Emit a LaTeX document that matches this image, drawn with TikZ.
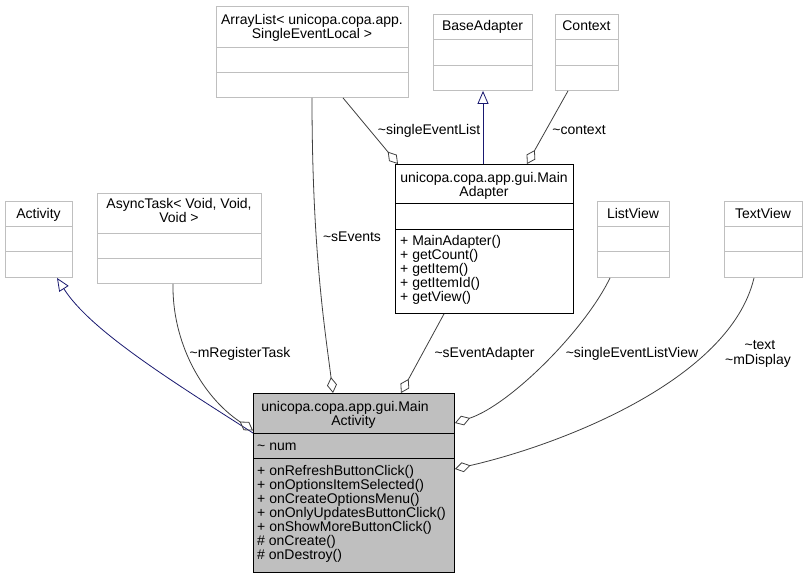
\documentclass[tikz,border=0pt]{standalone}
\usepackage{fontspec}
\setmainfont{Liberation Sans}
\usetikzlibrary{arrows.meta,calc}
\definecolor{extgray}{HTML}{BFBFBF}
\definecolor{edgegray}{HTML}{404040}
\definecolor{inhblue}{HTML}{191970}
\begin{document}
\begin{tikzpicture}[x=1pt,y=-1pt,
  font=\fontsize{14}{14}\selectfont,
  ext/.style={rectangle, draw=extgray, fill=white, line width=0.9pt, inner sep=0pt, anchor=north west},
  own/.style={rectangle, draw=black, fill=white, line width=0.9pt, inner sep=0pt, anchor=north west},
  ownfill/.style={rectangle, draw=black, fill=extgray, line width=0.9pt, inner sep=0pt, anchor=north west},
  divext/.style={draw=extgray, line width=0.9pt},
  divown/.style={draw=black, line width=0.9pt},
  lbl/.style={anchor=base, inner sep=0pt},
  mem/.style={anchor=base west, inner sep=0pt},
  agg/.style={draw=edgegray, line width=0.8pt, {Diamond[open,length=16pt,width=10pt]}-},
  inh/.style={draw=inhblue, line width=0.8pt, -{Triangle[open,length=13pt,width=11pt]}}
]
\fill[white] (0,0) rectangle (805,579);
\useasboundingbox (0,0) rectangle (805,579);

% ---- external classes ----
\node[ext, minimum width=67pt, minimum height=76pt] (activity) at (5,201) {};
\draw[divext] (activity.west |- 0,226) -- (activity.east |- 0,226);
\draw[divext] (activity.west |- 0,251) -- (activity.east |- 0,251);
\node[lbl] (activity-t) at (38.5,218) {Activity};

\node[ext, minimum width=164pt, minimum height=90pt] (async) at (97,193) {};
\draw[divext] (async.west |- 0,233) -- (async.east |- 0,233);
\draw[divext] (async.west |- 0,258) -- (async.east |- 0,258);
\node[lbl] (async-t1) at (179,208.5) {AsyncTask< Void, Void,};
\node[lbl] (async-t2) at (179,222.5) {Void >};

\node[ext, minimum width=192pt, minimum height=91pt] (arraylist) at (216,6) {};
\draw[divext] (arraylist.west |- 0,47) -- (arraylist.east |- 0,47);
\draw[divext] (arraylist.west |- 0,72) -- (arraylist.east |- 0,72);
\node[lbl] (arraylist-t1) at (312,24.5) {ArrayList< unicopa.copa.app.};
\node[lbl] (arraylist-t2) at (312,38.5) {SingleEventLocal >};

\node[ext, minimum width=99pt, minimum height=76pt] (baseadapter) at (433,14) {};
\draw[divext] (baseadapter.west |- 0,39.5) -- (baseadapter.east |- 0,39.5);
\draw[divext] (baseadapter.west |- 0,65) -- (baseadapter.east |- 0,65);
\node[lbl] (baseadapter-t) at (482.5,30.5) {BaseAdapter};

\node[ext, minimum width=63pt, minimum height=76pt] (context) at (555,14) {};
\draw[divext] (context.west |- 0,39.5) -- (context.east |- 0,39.5);
\draw[divext] (context.west |- 0,65) -- (context.east |- 0,65);
\node[lbl] (context-t) at (586.5,30.5) {Context};

\node[ext, minimum width=72pt, minimum height=76pt] (listview) at (597,201) {};
\draw[divext] (listview.west |- 0,226) -- (listview.east |- 0,226);
\draw[divext] (listview.west |- 0,251) -- (listview.east |- 0,251);
\node[lbl] (listview-t) at (633,218) {ListView};

\node[ext, minimum width=78pt, minimum height=76pt] (textview) at (724,201) {};
\draw[divext] (textview.west |- 0,226) -- (textview.east |- 0,226);
\draw[divext] (textview.west |- 0,251) -- (textview.east |- 0,251);
\node[lbl] (textview-t) at (763,218) {TextView};

% ---- MainAdapter ----
\node[own, minimum width=178pt, minimum height=149pt] (madapter) at (395,164) {};
\draw[divown] (madapter.west |- 0,203) -- (madapter.east |- 0,203);
\draw[divown] (madapter.west |- 0,229) -- (madapter.east |- 0,229);
\node[lbl] (madapter-t1) at (484,182.5) {unicopa.copa.app.gui.Main};
\node[lbl] (madapter-t2) at (484,196.5) {Adapter};
\foreach \t [count=\i from 0] in {+ MainAdapter(),+ getCount(),+ getItem(),+ getItemId(),+ getView()}
  \node[mem] (madapter-m\i) at (400,245.5+14.1*\i) {\t};

% ---- MainActivity ----
\node[ownfill, minimum width=201pt, minimum height=179pt] (ma) at (253,393) {};
\draw[divown] (ma.west |- 0,433) -- (ma.east |- 0,433);
\draw[divown] (ma.west |- 0,458) -- (ma.east |- 0,458);
\node[lbl] (ma-t1) at (345,411) {unicopa.copa.app.gui.Main};
\node[lbl] (ma-t2) at (353.5,425) {Activity};
\node[mem] (ma-a) at (257,450) {\textasciitilde{} num};
\foreach \t [count=\i from 0] in {+ onRefreshButtonClick(),+ onOptionsItemSelected(),+ onCreateOptionsMenu(),+ onOnlyUpdatesButtonClick(),+ onShowMoreButtonClick(),\# onCreate(),\# onDestroy()}
  \node[mem] (ma-m\i) at (257,475+14*\i) {\t};

% ---- connectors ----
\draw[inh] (ma.west |- 0,433) .. controls (170,380) and (90,330) .. (activity.south -| 57,0);
\draw[agg] (ma.west |- 0,430.5) .. controls (200,395) and (172,340) .. (async.south -| 173,0);
\draw[agg] (ma.north -| 333,0) .. controls (325,330) and (312,250) .. (arraylist.south -| 312,0);
\draw[agg] (madapter.north -| 398,0) -- (arraylist.south -| 343,0);
\draw[inh] (madapter.north -| 483,0) -- (baseadapter.south -| 483,0);
\draw[agg] (madapter.north -| 527,0) -- (context.south -| 568,0);
\draw[agg] (ma.north -| 401,0) -- (madapter.south -| 444,0);
\draw[agg] (ma.east |- 0,423) .. controls (510,405) and (585,330) .. (listview.south -| 610,0);
\draw[agg] (ma.east |- 0,469) .. controls (560,445) and (730,380) .. (textview.south -| 754,0);

% ---- labels ----
\node[lbl] (l-sevents) at (352,241) {\textasciitilde sEvents};
\node[lbl] (l-sel) at (429,134) {\textasciitilde singleEventList};
\node[lbl] (l-context) at (579,134) {\textasciitilde context};
\node[lbl] (l-mreg) at (240,357) {\textasciitilde mRegisterTask};
\node[lbl] (l-sea) at (484.5,357) {\textasciitilde sEventAdapter};
\node[lbl] (l-selv) at (632,357) {\textasciitilde singleEventListView};
\node[lbl] (l-text) at (760,349) {\textasciitilde text};
\node[lbl] (l-mdisp) at (758,364) {\textasciitilde mDisplay};
\end{tikzpicture}
\end{document}
